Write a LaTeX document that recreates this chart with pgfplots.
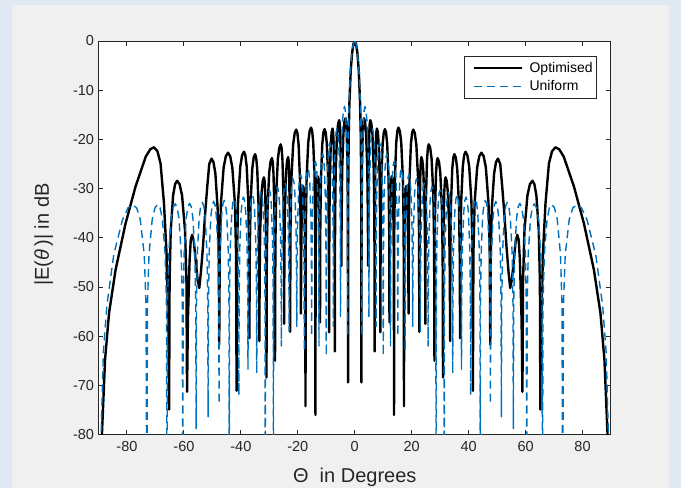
\documentclass[border=0pt]{standalone}
\usepackage{pgfplots}
\usepackage{pgfplotstable}
\pgfplotsset{compat=1.18}
\usepackage{fontspec}
\setmainfont{Liberation Sans}
\definecolor{mblue}{rgb}{0,0.447,0.741}
\definecolor{axgray}{rgb}{0.15,0.15,0.15}
\definecolor{figgray}{RGB}{240,240,240}
\definecolor{bgblue}{RGB}{224,233,243}

\pgfplotstableread{
x y
0 0
0.47 -0.6
0.94 -2.5
1.41 -6.0
1.88 -12.7
2.12 -19.3
2.28 -30
2.35 -69.4
2.404 -36.2
2.53 -25.9
2.80 -18.7
3.025 -16.4
3.25 -15.7
3.6125 -16.4
3.975 -18.7
4.41 -25.9
4.613 -36.2
4.70 -45.7
4.745 -36.6
4.85 -26.3
5.075 -19.1
5.2625 -16.8
5.45 -16.1
5.8375 -16.8
6.225 -19.1
6.69 -26.3
6.907 -36.6
7.0 -63.1
7.048 -38.3
7.16 -28.0
7.4 -20.8
7.6 -18.5
7.8 -17.8
8.1 -18.5
8.4 -20.8
8.76 -28.0
8.928 -38.3
9.0 -59.2
9.096 -38.4
9.32 -28.1
9.8 -20.9
10.2 -18.6
10.6 -17.9
11.0 -18.6
11.4 -20.9
11.88 -28.1
12.104 -38.4
12.2 -57.2
12.248 -48.0
12.36 -37.7
12.6 -30.5
12.8 -28.2
13.0 -27.5
13.2 -28.2
13.4 -30.5
13.64 -37.7
13.752 -48.0
13.8 -76.0
13.893 -38.1
14.11 -27.8
14.575 -20.6
14.9625 -18.3
15.35 -17.6
15.8375 -18.3
16.325 -20.6
16.91 -27.8
17.183 -38.1
17.3 -74.2
17.348 -50.0
17.46 -39.7
17.7 -32.5
17.9 -30.2
18.1 -29.5
18.3 -30.2
18.5 -32.5
18.74 -39.7
18.852 -50.0
18.9 -55.4
18.999 -38.5
19.23 -28.2
19.725 -21.0
20.1375 -18.7
20.55 -18.0
21.0875 -18.7
21.625 -21.0
22.27 -28.2
22.571 -38.5
22.7 -59.1
22.742 -44.1
22.84 -33.8
23.05 -26.6
23.225 -24.3
23.4 -23.6
23.75 -24.3
24.1 -26.6
24.52 -33.8
24.716 -44.1
24.8 -57.5
24.872 -41.5
25.04 -31.2
25.4 -24.0
25.7 -21.7
26.0 -21.0
26.5 -21.7
27.0 -24.0
27.6 -31.2
27.88 -41.5
28.0 -65.0
28.066 -44.3
28.22 -34.0
28.55 -26.8
28.825 -24.5
29.1 -23.8
29.575 -24.5
30.05 -26.8
30.62 -34.0
30.886 -44.3
31.0 -68.4
31.054 -48.2
31.18 -37.9
31.45 -30.7
31.675 -28.4
31.9 -27.7
32.3 -28.4
32.7 -30.7
33.18 -37.9
33.404 -48.2
33.5 -61.0
33.59 -43.5
33.8 -33.2
34.25 -26.0
34.625 -23.7
35.0 -23.0
35.5 -23.7
36.0 -26.0
36.6 -33.2
36.88 -43.5
37.0 -60.4
37.114 -43.0
37.38 -32.7
37.95 -25.5
38.425 -23.2
38.9 -22.5
39.55 -23.2
40.2 -25.5
40.98 -32.7
41.344 -43.0
41.5 -71.1
41.68 -43.2
42.1 -32.9
43.0 -25.7
43.75 -23.4
44.5 -22.7
45.275 -23.4
46.05 -25.7
46.98 -32.9
47.414 -43.2
47.6 -61.7
47.762 -44.4
48.14 -34.1
48.95 -26.9
49.625 -24.6
50.3 -23.9
51.1 -25.0
51.8 -29.6
52.6 -35.5
53.3 -41.8
54.0 -46.8
54.6 -50.2
55.2 -48.5
55.9 -44.5
56.5 -40.8
57.1 -39.4
57.6 -40.5
58.0 -44.5
58.6 -56.7
58.9 -71.3
59.11 -48.9
59.6 -38.6
60.65 -31.4
61.525 -29.1
62.4 -28.4
63.1 -29.1
63.8 -31.4
64.64 -38.6
65.032 -48.9
65.2 -74.9
65.3 -63.5
66.1 -43.2
67.0 -33.0
68.2 -24.9
69.3 -22.4
70.5 -21.6
71.8 -22.0
73.4 -23.5
77.0 -29.6
80.5 -37.1
84.0 -46.5
86.3 -55.3
87.7 -64.8
88.8 -80
89.5 -100
}\opt

\pgfplotstableread{
x y
0 0
0.498 -0.58
0.997 -2.42
1.495 -5.94
1.994 -12.62
2.243 -19.23
2.417 -30.2
2.492 -60
2.567 -33.8
2.741 -23.5
3.08 -16.3
3.323 -14.0
3.6 -13.3
3.947 -14.0
4.3 -16.3
4.739 -23.5
4.914 -33.8
4.989 -56
5.064 -38.4
5.239 -28.1
5.615 -20.9
5.927 -18.6
6.240 -17.9
6.554 -18.6
6.867 -20.9
7.243 -28.1
7.419 -38.4
7.494 -58
7.570 -41.2
7.746 -30.9
8.124 -23.7
8.438 -21.4
8.753 -20.7
9.069 -21.4
9.384 -23.7
9.763 -30.9
9.939 -41.2
10.015 -64
10.091 -43.4
10.269 -33.1
10.649 -25.9
10.966 -23.6
11.283 -22.9
11.601 -23.6
11.920 -25.9
12.301 -33.1
12.480 -43.4
12.556 -62
12.633 -45.0
12.812 -34.7
13.196 -27.5
13.516 -25.2
13.836 -24.5
14.158 -25.2
14.479 -27.5
14.865 -34.7
15.045 -45.0
15.122 -60
15.200 -46.4
15.381 -36.1
15.770 -28.9
16.093 -26.6
16.417 -25.9
16.743 -26.6
17.068 -28.9
17.459 -36.1
17.641 -46.4
17.719 -63
17.798 -47.6
17.981 -37.3
18.375 -30.1
18.703 -27.8
19.031 -27.1
19.362 -27.8
19.693 -30.1
20.089 -37.3
20.275 -47.6
20.354 -58
20.434 -48.5
20.621 -38.2
21.021 -31.0
21.355 -28.7
21.688 -28.0
22.025 -28.7
22.362 -31.0
22.766 -38.2
22.954 -48.5
23.035 -59
23.117 -49.4
23.308 -39.1
23.717 -31.9
24.057 -29.6
24.398 -28.9
24.741 -29.6
25.085 -31.9
25.496 -39.1
25.689 -49.4
25.771 -62
25.854 -50.1
26.049 -39.8
26.467 -32.6
26.814 -30.3
27.162 -29.6
27.515 -30.3
27.868 -32.6
28.291 -39.8
28.488 -50.1
28.573 -100
28.659 -50.8
28.858 -40.5
29.287 -33.3
29.643 -30.9
30.000 -30.3
30.363 -30.9
30.725 -33.3
31.160 -40.5
31.363 -50.8
31.450 -100
31.538 -51.3
31.745 -41.0
32.187 -33.8
32.555 -31.5
32.923 -30.8
33.297 -31.5
33.671 -33.8
34.120 -41.0
34.329 -51.3
34.419 -67.5
34.510 -51.8
34.724 -41.5
35.181 -34.3
35.561 -32.0
35.942 -31.3
36.330 -32.0
36.719 -34.3
37.184 -41.5
37.402 -51.8
37.495 -66.7
37.590 -52.2
37.813 -41.9
38.290 -34.7
38.687 -32.4
39.084 -31.7
39.489 -32.4
39.894 -34.7
40.379 -41.9
40.606 -52.2
40.703 -72
40.803 -52.6
41.036 -42.3
41.536 -35.1
41.953 -32.8
42.369 -32.1
42.796 -32.8
43.223 -35.1
43.735 -42.3
43.975 -52.6
44.077 -100
44.183 -52.9
44.430 -42.6
44.959 -35.4
45.399 -33.1
45.840 -32.4
46.294 -33.1
46.749 -35.4
47.294 -42.6
47.548 -52.9
47.657 -73.8
47.770 -53.1
48.034 -42.8
48.599 -35.6
49.070 -33.3
49.541 -32.6
50.032 -33.3
50.522 -35.6
51.111 -42.8
51.385 -53.1
51.503 -76.4
51.626 -53.3
51.912 -43.0
52.525 -35.8
53.035 -33.5
53.546 -32.8
54.085 -33.5
54.625 -35.8
55.272 -43.0
55.574 -53.3
55.703 -78.8
55.839 -53.5
56.158 -43.2
56.840 -36.0
57.408 -33.7
57.976 -33.0
58.584 -33.7
59.193 -36.0
59.922 -43.2
60.263 -53.5
60.409 -100
60.567 -53.6
60.936 -43.3
61.727 -36.1
62.386 -33.8
63.045 -33.1
63.767 -33.8
64.488 -36.1
65.354 -43.3
65.758 -53.6
65.931 -100
66.127 -53.7
66.584 -43.4
67.565 -36.2
68.381 -33.9
69.198 -33.2
70.157 -33.9
71.116 -36.2
72.267 -43.4
72.804 -53.7
73.034 -100
73.30 -53.8
73.92 -43.5
75.33 -36.3
76.61 -33.9
78.03 -33.3
79.64 -33.9
81.55 -36.3
84.66 -43.5
87.07 -53.8
88.31 -63.3
90 -100
}\uni

\begin{document}
\begin{tikzpicture}[x=1pt,y=1pt]
\fill[bgblue] (0,0) rectangle (681,488);
\fill[figgray] (12,0) rectangle (669,483);
\useasboundingbox (0,0) rectangle (681,488);
\begin{axis}[
  at={(98.5pt,53.4pt)}, anchor=south west,
  width=512.5pt, height=393.6pt, scale only axis,
  xmin=-90, xmax=90, ymin=-80, ymax=0,
  xtick={-80,-60,-40,-20,0,20,40,60,80},
  xticklabels={-80,-60,-40,-20,0,20,40,60,80},
  ytick={-80,-70,-60,-50,-40,-30,-20,-10,0},
  yticklabels={-80,-70,-60,-50,-40,-30,-20,-10,0},
  tick align=inside, major tick length=5pt,
  axis line style={axgray, line width=1pt},
  every tick/.style={axgray, line width=1pt},
  ticklabel style={font=\fontsize{14.5}{15}\selectfont, text=axgray},
  xticklabel style={yshift=-3pt},
  yticklabel style={xshift=-1pt},
  axis background/.style={fill=white},
  xlabel={Θ\ \ in Degrees},
  ylabel={|E(\textit{θ}\,)| in dB},
  label style={font=\fontsize{20}{22}\selectfont, text=axgray},
  xlabel style={at={(axis description cs:0.5,-0.108)}, anchor=center},
  ylabel style={at={(axis description cs:-0.107,0.508)}, anchor=center},
  legend style={at={(axis description cs:0.9727,0.9627)}, anchor=north east,
    draw=axgray, line width=0.8pt, fill=white,
    font=\fontsize{14}{16}\selectfont, inner xsep=2pt, inner ysep=4pt,
    row sep=3pt},
  legend cell align=left,
]
\addplot[black, line width=2.4pt, line join=round,
  legend image code/.code={\path[draw=none,fill=none] (-7pt,0pt) -- (54pt,0pt);\draw[black, line width=2.4pt, solid] (0pt,0pt) -- (48pt,0pt);}]
  table[x=x,y=y] {\opt};
\addlegendentry{Optimised}
\addplot[black, line width=2.4pt, line join=round, forget plot] table[x expr=-\thisrow{x}, y=y] {\opt};
\addplot[mblue, line width=1.4pt, line join=round, dash pattern=on 8pt off 5pt,
  legend image code/.code={\path[draw=none,fill=none] (-7pt,0pt) -- (54pt,0pt);\draw[mblue, line width=1.4pt, dash pattern=on 8pt off 5pt] (0pt,0pt) -- (48pt,0pt);}]
  table[x=x,y=y] {\uni};
\addlegendentry{Uniform}
\addplot[mblue, line width=1.4pt, line join=round, dash pattern=on 8pt off 5pt, forget plot] table[x expr=-\thisrow{x}, y=y] {\uni};
\end{axis}
\end{tikzpicture}
\end{document}
